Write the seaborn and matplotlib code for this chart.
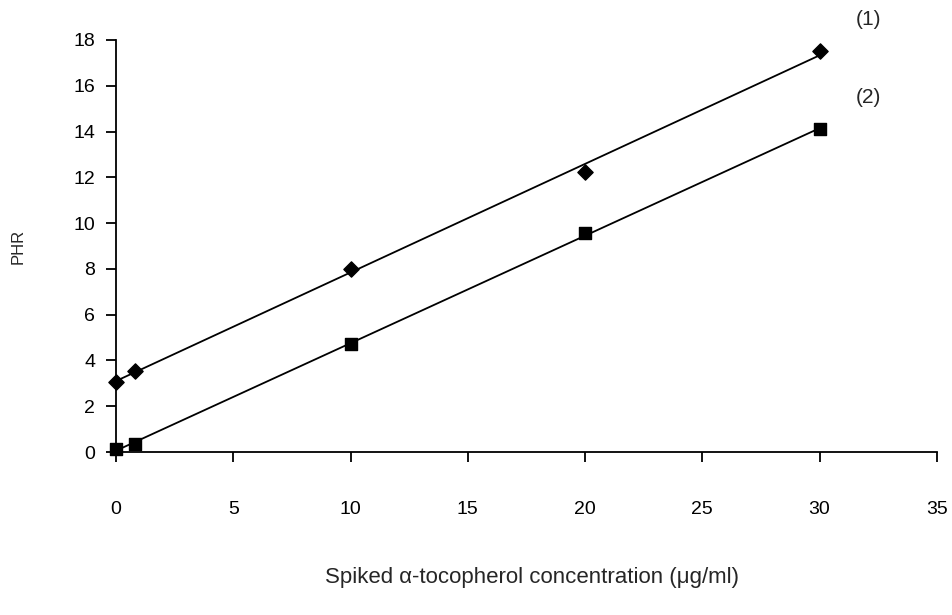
import matplotlib
matplotlib.use("Agg")
import matplotlib.pyplot as plt
import seaborn as sns
import numpy as np

sns.set_style("white")
plt.rcParams["font.family"] = ["Liberation Sans", "DejaVu Sans"]

conc = [0, 0.8, 10, 20, 30]
phr_1 = [3.05, 3.55, 8.0, 12.25, 17.5]
phr_2 = [0.15, 0.35, 4.7, 9.55, 14.1]
series_labels = ["(1)", "(2)"]

fig = plt.figure(figsize=(9.52, 6.15), dpi=100)
ax = fig.add_axes([0.122, 0.265, 0.862, 0.67])

sns.regplot(x=conc, y=phr_1, ci=None, marker="D", color="black", ax=ax,
            scatter_kws={"s": 60, "zorder": 3, "alpha": 1, "clip_on": False},
            line_kws={"lw": 1.3})
sns.regplot(x=conc, y=phr_2, ci=None, marker="s", color="black", ax=ax,
            scatter_kws={"s": 85, "zorder": 3, "alpha": 1, "clip_on": False},
            line_kws={"lw": 1.3})

ax.set_xlim(0, 35)
ax.set_ylim(0, 18)
ax.set_xticks(np.arange(0, 36, 5))
ax.set_yticks(np.arange(0, 19, 2))
for s in ["top", "right"]:
    ax.spines[s].set_visible(False)
for s in ["left", "bottom"]:
    ax.spines[s].set_color("black")
    ax.spines[s].set_linewidth(1.3)
ax.tick_params(axis="both", which="major", bottom=True, left=True, direction="out",
               length=7, width=1.3, colors="black", labelsize=14)
ax.tick_params(axis="x", pad=28)
ax.tick_params(axis="y", pad=8)

ax.set_xlabel("Spiked α-tocopherol concentration (μg/ml)", fontsize=16)
ax.xaxis.set_label_coords(0.507, -0.28)
ax.set_ylabel("PHR", fontsize=12)
ax.yaxis.set_label_coords(-0.11, 0.5)

ax.text(32.1, 18.9, series_labels[0], fontsize=15, ha="center", va="center", clip_on=False)
ax.text(32.1, 15.5, series_labels[1], fontsize=15, ha="center", va="center", clip_on=False)

fig.savefig("out.png", dpi=100)
